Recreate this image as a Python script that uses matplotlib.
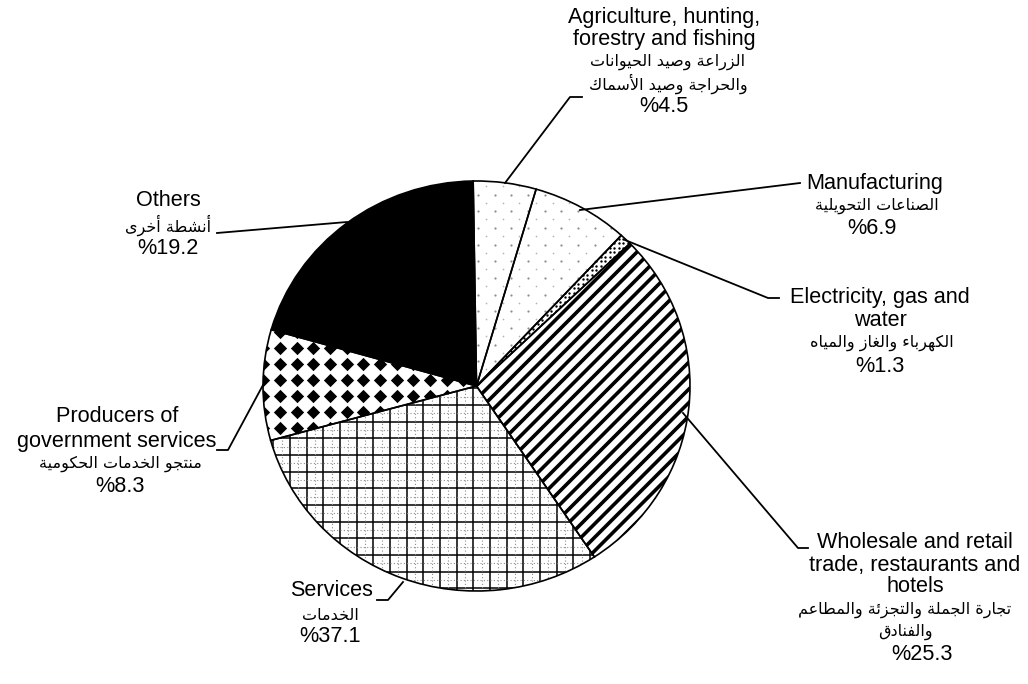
import numpy as np
import matplotlib
matplotlib.use("Agg")
import matplotlib.pyplot as plt
from matplotlib.collections import LineCollection

# %% Data: sectors listed clockwise from 12 o'clock
sectors = ["Agriculture", "Manufacturing", "Electricity", "Wholesale",
           "Services", "Producers", "Others"]
label_pcts = [4.5, 6.9, 1.3, 25.3, 37.1, 8.3, 19.2]        # printed on the chart
wedge_shares = [4.75, 7.35, 0.9, 27.9, 30.0, 8.7, 20.3]   # slice sizes as drawn

names_en = [
    ["Agriculture, hunting,", "forestry and fishing"],
    ["Manufacturing"],
    ["Electricity, gas and", "water"],
    ["Wholesale and retail", "trade, restaurants and", "hotels"],
    ["Services"],
    ["Producers of", "government services"],
    ["Others"],
]
names_ar = [
    ["الزراعة وصيد الحيوانات", "والحراجة وصيد الأسماك"],
    ["الصناعات التحويلية"],
    ["الكهرباء والغاز والمياه"],
    ["تجارة الجملة والتجزئة والمطاعم", "والفنادق"],
    ["الخدمات"],
    ["منتجو الخدمات الحكومية"],
    ["أنشطة أخرى"],
]

# %% Minimal Arabic shaping (matplotlib has no text shaping / bidi)
# (isolated, final, initial, medial)
FORMS = {
    'ء': ('\uFE80', None, None, None),
    'أ': ('\uFE83', '\uFE84', None, None),
    'ئ': ('\uFE89', '\uFE8A', '\uFE8B', '\uFE8C'),
    'ا': ('\uFE8D', '\uFE8E', None, None),
    'ب': ('\uFE8F', '\uFE90', '\uFE91', '\uFE92'),
    'ة': ('\uFE93', '\uFE94', None, None),
    'ت': ('\uFE95', '\uFE96', '\uFE97', '\uFE98'),
    'ج': ('\uFE9D', '\uFE9E', '\uFE9F', '\uFEA0'),
    'ح': ('\uFEA1', '\uFEA2', '\uFEA3', '\uFEA4'),
    'خ': ('\uFEA5', '\uFEA6', '\uFEA7', '\uFEA8'),
    'د': ('\uFEA9', '\uFEAA', None, None),
    'ر': ('\uFEAD', '\uFEAE', None, None),
    'ز': ('\uFEAF', '\uFEB0', None, None),
    'س': ('\uFEB1', '\uFEB2', '\uFEB3', '\uFEB4'),
    'ش': ('\uFEB5', '\uFEB6', '\uFEB7', '\uFEB8'),
    'ص': ('\uFEB9', '\uFEBA', '\uFEBB', '\uFEBC'),
    'ط': ('\uFEC1', '\uFEC2', '\uFEC3', '\uFEC4'),
    'ع': ('\uFEC9', '\uFECA', '\uFECB', '\uFECC'),
    'غ': ('\uFECD', '\uFECE', '\uFECF', '\uFED0'),
    'ف': ('\uFED1', '\uFED2', '\uFED3', '\uFED4'),
    'ق': ('\uFED5', '\uFED6', '\uFED7', '\uFED8'),
    'ك': ('\uFED9', '\uFEDA', '\uFEDB', '\uFEDC'),
    'ل': ('\uFEDD', '\uFEDE', '\uFEDF', '\uFEE0'),
    'م': ('\uFEE1', '\uFEE2', '\uFEE3', '\uFEE4'),
    'ن': ('\uFEE5', '\uFEE6', '\uFEE7', '\uFEE8'),
    'ه': ('\uFEE9', '\uFEEA', '\uFEEB', '\uFEEC'),
    'و': ('\uFEED', '\uFEEE', None, None),
    'ى': ('\uFEEF', '\uFEF0', None, None),
    'ي': ('\uFEF1', '\uFEF2', '\uFEF3', '\uFEF4'),
}
LAM_ALEF = {'ا': ('\uFEFB', '\uFEFC'), 'أ': ('\uFEF7', '\uFEF8')}


def shape_arabic(text):
    out = []
    prev_joins = False
    i = 0
    while i < len(text):
        ch = text[i]
        if ch == 'ل' and i + 1 < len(text) and text[i + 1] in LAM_ALEF:
            iso, fin = LAM_ALEF[text[i + 1]]
            out.append(fin if prev_joins else iso)
            prev_joins = False
            i += 2
            continue
        forms = FORMS.get(ch)
        if forms is None:
            out.append(ch)
            prev_joins = False
            i += 1
            continue
        nxt = text[i + 1] if i + 1 < len(text) else None
        next_joins = forms[2] is not None and nxt in FORMS and FORMS[nxt][1] is not None
        if prev_joins and next_joins:
            out.append(forms[3])
        elif prev_joins:
            out.append(forms[1])
        elif next_joins:
            out.append(forms[2])
        else:
            out.append(forms[0])
        prev_joins = next_joins
        i += 1
    # visual order: right to left
    return "".join(reversed(out))


# %% Figure setup
plt.rcParams['font.family'] = ['Liberation Sans', 'DejaVu Sans']
W, H = 1028, 684
fig = plt.figure(figsize=(W / 100, H / 100), dpi=100)
fig.patch.set_facecolor('white')

# pie is a slightly wide ellipse in the original
CX, CY, RX, RY = 476.5, 386.0, 213.5, 205.0
ax = fig.add_axes([(CX - RX) / W, (H - CY - RY) / H, 2 * RX / W, 2 * RY / H])


def to_pie(px, py):
    return (np.asarray(px) - CX) / RX, (CY - np.asarray(py)) / RY


colors = ['white'] * 6 + ['black']
wedges, _ = ax.pie(wedge_shares, startangle=90.9, counterclock=False,
                   colors=colors, radius=1,
                   wedgeprops=dict(edgecolor='none', linewidth=0))

# --- textures, built in pixel space and clipped to the slices
def add_segments(segs, wedge, lw, color='black', ls='solid'):
    segs_pie = []
    for (x0, y0), (x1, y1) in segs:
        a = to_pie([x0, x1], [y0, y1])
        segs_pie.append(list(zip(a[0], a[1])))
    lc = LineCollection(segs_pie, colors=color, linewidths=lw, linestyles=ls, zorder=2)
    ax.add_collection(lc)
    lc.set_clip_path(wedge)


def add_dots(xs, ys, wedge, size, color='black', marker='o'):
    gx, gy = np.meshgrid(xs, ys)
    px, py = to_pie(gx.ravel(), gy.ravel())
    sc = ax.scatter(px, py, s=size, c=color, marker=marker, linewidths=0, zorder=2)
    sc.set_clip_path(wedge)


# Agriculture / Manufacturing: faint sparse dots
for k in (0, 1):
    add_dots(np.arange(478, 640, 16.67), np.arange(178, 400, 16.67), wedges[k], 2.5, color='0.55')
    add_dots(np.arange(486, 640, 16.67), np.arange(186, 400, 16.67), wedges[k], 1.5, color='0.7')

# Electricity: dense dots
add_dots(np.arange(470, 650, 4.5), np.arange(225, 395, 4.5), wedges[2], 3.0)

# Wholesale: thick diagonal stripes
segs = [((450, c - 450), (720, c - 720)) for c in np.arange(700, 1320, 13.5)]
add_segments(segs, wedges[3], 2.6)

# Services: grid of thin lines with grey dotted lines between
vx = np.arange(256.7, 620, 16.67)
hy = np.arange(371.7, 610, 16.67)
add_segments([((x, 360), (x, 600)) for x in vx] + [((250, y), (620, y)) for y in hy],
             wedges[4], 1.1)
add_segments([((x + 8.33, 360), (x + 8.33, 600)) for x in vx] +
             [((250, y + 8.33), (620, y + 8.33)) for y in hy],
             wedges[4], 0.8, color='0.55', ls=(0, (1, 2)))

# Producers of government services: black diamonds
add_dots(np.arange(246.7, 490, 16.67), np.arange(316.3, 470, 16.0), wedges[5], 46, marker='D')

# slice outlines on top
ax.pie(wedge_shares, startangle=90.9, counterclock=False, radius=1,
       wedgeprops=dict(fill=False, edgecolor='black', linewidth=1.2, zorder=5))
ax.set_aspect('auto')
ax.set_xlim(-1, 1)
ax.set_ylim(-1, 1)
ax.axis('off')

# %% Labels and leader lines, in pixel coordinates
ax_txt = fig.add_axes([0, 0, 1, 1])
ax_txt.set_xlim(0, W)
ax_txt.set_ylim(H, 0)
ax_txt.axis('off')

# (x english, x arabic, x percent, y of each line top to bottom)
label_layout = [
    (664, 668, 664, [18, 40, 62, 84, 107]),
    (875, 877, 872, [183, 206, 229]),
    (880, 882, 880, [298, 320, 343, 366]),
    (915, 905, 922, [542, 565, 587, 610, 632, 655]),
    (332, 330, 330, [590, 615, 637]),
    (117, 120, 120, [417, 441, 464, 487]),
    (168, 168, 168, [201, 225, 248]),
]
leaders = [
    [(505, 183), (570, 97), (582, 97)],
    [(580, 210), (800, 183)],
    [(625, 240), (768, 298), (779, 298)],
    [(683, 413), (798, 548), (808, 548)],
    [(403, 582), (388, 600), (377, 600)],
    [(263, 385), (228, 450), (217, 450)],
    [(347, 222), (217, 233)],
]

for en, ar, pct, (xe, xa, xp, ys), pts in zip(names_en, names_ar, label_pcts, label_layout, leaders):
    lines = [(t, xe, 'en') for t in en] + [(t, xa, 'ar') for t in ar] + [(f"%{pct}", xp, 'en')]
    for (t, x, kind), y in zip(lines, ys):
        if kind == 'ar':
            ax_txt.text(x, y, shape_arabic(t), ha='center', va='center',
                        fontsize=11.5, family='DejaVu Sans')
        else:
            ax_txt.text(x, y, t, ha='center', va='center', fontsize=15.6)
    lx, ly = zip(*pts)
    ax_txt.plot(lx, ly, color='black', lw=1.3)

fig.savefig('out.png', dpi=100, facecolor='white')
